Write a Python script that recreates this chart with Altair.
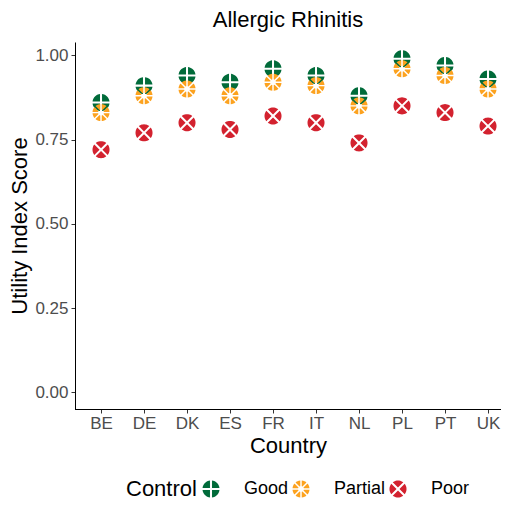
import math
import altair as alt
import pandas as pd

countries = ["BE", "DE", "DK", "ES", "FR", "IT", "NL", "PL", "PT", "UK"]
good = [0.86, 0.91, 0.94, 0.92, 0.96, 0.94, 0.88, 0.99, 0.97, 0.93]
partial = [0.83, 0.88, 0.90, 0.88, 0.92, 0.91, 0.85, 0.96, 0.94, 0.90]
poor = [0.72, 0.77, 0.80, 0.78, 0.82, 0.80, 0.74, 0.85, 0.83, 0.79]
levels = ["Good", "Partial", "Poor"]
colors = ["#016b3a", "#fca21f", "#d3222f"]
y_ticks = [0.0, 0.25, 0.5, 0.75, 1.0]

rows = []
for lvl, vals in zip(levels, [good, partial, poor]):
    for c, v in zip(countries, vals):
        rows.append({"Country": c, "Control": lvl, "Score": v})
df = pd.DataFrame(rows)


def sector(a0, a1, h, r_in=None, n=10):
    a0r, a1r = math.radians(a0), math.radians(a1)
    pts = []
    s, e = a0r + math.asin(h), a1r - math.asin(h)
    for i in range(n + 1):
        t = s + (e - s) * i / n
        pts.append((math.cos(t), math.sin(t)))
    corner = h / math.sin((a1r - a0r) / 2)
    if r_in is None or r_in <= corner:
        mid = (a0r + a1r) / 2
        pts.append((corner * math.cos(mid), corner * math.sin(mid)))
    else:
        s2, e2 = a1r - math.asin(h / r_in), a0r + math.asin(h / r_in)
        m = 4
        for i in range(m + 1):
            t = s2 + (e2 - s2) * i / m
            pts.append((r_in * math.cos(t), r_in * math.sin(t)))
    d = "M" + "L".join(f"{x:.3f},{y:.3f}" for x, y in pts) + "Z"
    return d


def glyph(start, step, h, r_in=None):
    parts = []
    a = start
    while a < start + 360 - 1e-6:
        parts.append(sector(a, a + step, h, r_in))
        a += step
    return "".join(parts)


shape_good = glyph(0, 90, 0.12)
shape_partial = glyph(0, 45, 0.085, 0.34)
shape_poor = glyph(45, 90, 0.12)

font = "Liberation Sans"
panel_w, panel_h = 426, 367

points = (
    alt.Chart(df)
    .mark_point(filled=True, opacity=1, size=290, strokeWidth=0)
    .encode(
        x=alt.X(
            "Country:N",
            sort=countries,
            scale=alt.Scale(type="point", padding=0.4535, align=0.667),
            axis=alt.Axis(
                title="Country",
                labelAngle=0,
                labelFontSize=17,
                labelColor="#4d4d4d",
                labelPadding=2,
                tickSize=4,
                tickColor="#333333",
                domainColor="black",
                titleFontSize=22,
                titleFontWeight="normal",
                titleColor="black",
                titlePadding=4,
                grid=False,
            ),
        ),
        y=alt.Y(
            "Score:Q",
            scale=alt.Scale(domain=[-0.0495, 1.0395], nice=False, zero=False),
            axis=alt.Axis(
                title="Utility Index Score",
                values=y_ticks,
                format=".2f",
                labelFontSize=17,
                labelColor="#4d4d4d",
                labelPadding=3,
                tickSize=4,
                tickColor="#333333",
                domainColor="black",
                titleFontSize=22,
                titleFontWeight="normal",
                titleColor="black",
                titlePadding=3,
                grid=False,
            ),
        ),
        color=alt.Color(
            "Control:N",
            scale=alt.Scale(domain=levels, range=colors),
            legend=alt.Legend(
                title="Control",
                orient="none",
                direction="horizontal",
                legendX=51,
                legendY=438,
                titleOrient="left",
                titleFontSize=22,
                titleFontWeight="normal",
                titleColor="black",
                titlePadding=5,
                labelFontSize=18,
                labelColor="black",
                labelOffset=24,
                symbolSize=290,
                columnPadding=3,
                symbolStrokeWidth=0,
                symbolOpacity=1,
            ),
        ),
        shape=alt.Shape(
            "Control:N",
            scale=alt.Scale(domain=levels, range=[shape_good, shape_partial, shape_poor]),
            legend=alt.Legend(title="Control"),
        ),
    )
)

# x-axis baseline (drawn explicitly so the panel's bottom edge is always visible)
baseline = (
    alt.Chart(pd.DataFrame({"k": [0]}))
    .mark_rule(color="black", strokeWidth=1)
    .encode(x=alt.value(0), x2=alt.value(panel_w), y=alt.value(panel_h + 0.5))
)

chart = (
    alt.layer(points, baseline)
    .properties(
        width=panel_w,
        height=panel_h,
        title=alt.TitleParams(
            "Allergic Rhinitis",
            fontSize=22,
            fontWeight="normal",
            color="black",
            anchor="middle",
            offset=10,
            font=font,
        ),
        autosize=alt.AutoSizeParams(type="none"),
        padding={"left": 67, "top": 34, "right": 0, "bottom": 92},
    )
    .configure(font=font)
    .configure_view(stroke=None)
)

chart.save("out.html", embed_options={"renderer": "svg", "actions": False})
